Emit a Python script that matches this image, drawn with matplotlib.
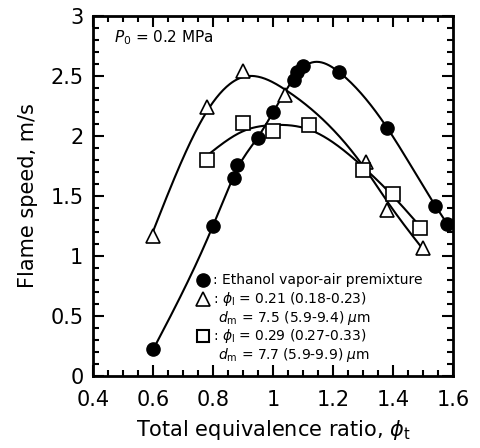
import numpy as np
import matplotlib
matplotlib.use("Agg")
import matplotlib.pyplot as plt
from matplotlib.ticker import MultipleLocator

plt.rcParams['font.family'] = ['DejaVu Sans']
plt.rcParams['mathtext.fontset'] = 'dejavusans'

# Ethanol vapor-air premixture
phi_vap = [0.60, 0.80, 0.87, 0.88, 0.95, 1.00, 1.07, 1.08, 1.10, 1.22, 1.38, 1.54, 1.58]
s_vap = [0.22, 1.25, 1.65, 1.76, 1.98, 2.20, 2.47, 2.53, 2.58, 2.53, 2.07, 1.42, 1.27]
# phi_l = 0.21 spray
phi_a = [0.60, 0.78, 0.90, 1.04, 1.31, 1.38, 1.50]
s_a = [1.17, 2.24, 2.54, 2.34, 1.78, 1.38, 1.07]
# phi_l = 0.29 spray
phi_b = [0.78, 0.90, 1.00, 1.12, 1.30, 1.40, 1.49]
s_b = [1.80, 2.11, 2.04, 2.09, 1.72, 1.52, 1.23]


def smooth_curve(x, y, lam, n=240):
    """Penalised (smoothing-spline-like) fit of the measured points on a fine grid."""
    x = np.asarray(x, float); y = np.asarray(y, float)
    g = np.linspace(x.min(), x.max(), n)
    h = g[1] - g[0]
    A = np.zeros((len(x), n))
    for i, xi in enumerate(x):
        j = min(int((xi - g[0]) / h), n - 2)
        t = (xi - g[j]) / h
        A[i, j] = 1 - t; A[i, j + 1] = t
    D = np.diff(np.eye(n), 2, axis=0) / h**2
    M = A.T @ A + lam * h * (D.T @ D)
    f = np.linalg.solve(M, A.T @ y)
    return g, f


fig = plt.figure(figsize=(4.8, 4.48), dpi=100)
ax = fig.add_axes([0.194, 0.161, 0.75, 0.803])

for (x, y, lam) in [(phi_vap, s_vap, 8e-6), (phi_a, s_a, 2.5e-4), (phi_b, s_b, 3e-4)]:
    xx, yy = smooth_curve(x, y, lam)
    ax.plot(xx, yy, color='black', lw=1.5, zorder=2)

ms = 9.5
ax.plot(phi_vap, s_vap, 'o', ms=ms, mfc='black', mec='black', zorder=3)
ax.plot(phi_a, s_a, '^', ms=ms + 1, mfc='white', mec='black', mew=1.2, zorder=3)
ax.plot(phi_b, s_b, 's', ms=ms, mfc='white', mec='black', mew=1.2, zorder=3)

ax.set_xlim(0.4, 1.6)
ax.set_ylim(0, 3)
ax.xaxis.set_major_locator(MultipleLocator(0.2))
ax.xaxis.set_minor_locator(MultipleLocator(0.05))
ax.yaxis.set_major_locator(MultipleLocator(0.5))
ax.yaxis.set_minor_locator(MultipleLocator(0.1))
ax.xaxis.set_major_formatter(plt.FuncFormatter(lambda v, p: ('%g' % round(v, 2))))
ax.yaxis.set_major_formatter(plt.FuncFormatter(lambda v, p: ('%g' % round(v, 2))))
ax.tick_params(which='both', direction='in', top=True, right=True, width=1.5, labelsize=15)
ax.tick_params(which='major', length=8)
ax.tick_params(which='minor', length=4)
ax.tick_params(axis='x', which='major', pad=10)
ax.tick_params(axis='y', which='major', pad=7)
for s in ax.spines.values():
    s.set_linewidth(2)

ax.set_xlabel(r'Total equivalence ratio, $\phi_{\rm t}$', fontsize=15, labelpad=6)
ax.set_ylabel('Flame speed, m/s', fontsize=15, labelpad=9)

ax.text(0.47, 2.82, r'$P_{\rm 0}$ = 0.2 MPa', fontsize=11, va='center')

# legend
lx, tx = 0.767, 0.80
ax.plot([lx], [0.80], 'o', ms=ms, mfc='black', mec='black')
ax.plot([lx], [0.64], '^', ms=ms + 1, mfc='white', mec='black', mew=1.2)
ax.plot([lx], [0.33], 's', ms=ms - 1, mfc='white', mec='black', mew=1.5)
fs = 10
ax.text(tx, 0.80, ': Ethanol vapor-air premixture', fontsize=fs, va='center')
ax.text(tx, 0.64, r': $\phi_{\rm l}$ = 0.21 (0.18-0.23)', fontsize=fs, va='center')
ax.text(tx + 0.015, 0.48, r'$d_{\rm m}$ = 7.5 (5.9-9.4) $\mu$m', fontsize=fs, va='center')
ax.text(tx, 0.33, r': $\phi_{\rm l}$ = 0.29 (0.27-0.33)', fontsize=fs, va='center')
ax.text(tx + 0.015, 0.17, r'$d_{\rm m}$ = 7.7 (5.9-9.9) $\mu$m', fontsize=fs, va='center')

fig.savefig('out.png', dpi=100)
